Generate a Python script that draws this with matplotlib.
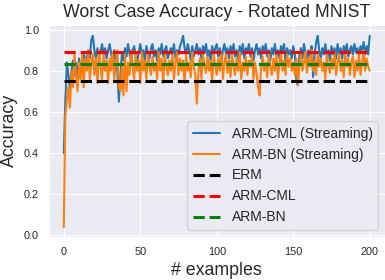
import matplotlib
matplotlib.use("Agg")
import matplotlib.pyplot as plt
import seaborn as sns
import numpy as np

# streaming accuracy, one value per example (0..200)
arm_cml_stream = [
    0.40, 0.66, 0.84, 0.78, 0.71, 0.80, 0.85, 0.78, 0.84, 0.76,
    0.86, 0.80, 0.85, 0.89, 0.82, 0.87, 0.90, 0.86, 0.95, 0.97,
    0.90, 0.86, 0.91, 0.87, 0.89, 0.93, 0.88, 0.91, 0.86, 0.90,
    0.93, 0.88, 0.85, 0.90, 0.83, 0.80, 0.65, 0.78, 0.88, 0.85,
    0.91, 0.87, 0.93, 0.88, 0.85, 0.90, 0.92, 0.87, 0.84, 0.89,
    0.93, 0.88, 0.90, 0.85, 0.92, 0.88, 0.86, 0.91, 0.93, 0.87,
    0.90, 0.85, 0.91, 0.88, 0.93, 0.87, 0.90, 0.92, 0.86, 0.89,
    0.91, 0.88, 0.93, 0.86, 0.90, 0.88, 0.92, 0.94, 0.97, 0.91,
    0.88, 0.93, 0.90, 0.85, 0.92, 0.87, 0.90, 0.93, 0.88, 0.91,
    0.86, 0.92, 0.89, 0.93, 0.87, 0.90, 0.85, 0.92, 0.88, 0.91,
    0.93, 0.87, 0.91, 0.84, 0.90, 0.93, 0.88, 0.91, 0.86, 0.92,
    0.89, 0.93, 0.87, 0.90, 0.85, 0.92, 0.88, 0.93, 0.86, 0.91,
    0.89, 0.93, 0.87, 0.91, 0.85, 0.90, 0.93, 0.88, 0.91, 0.86,
    0.92, 0.89, 0.93, 0.87, 0.90, 0.85, 0.91, 0.88, 0.93, 0.87,
    0.90, 0.86, 0.92, 0.89, 0.93, 0.84, 0.91, 0.88, 0.90, 0.86,
    0.92, 0.88, 0.76, 0.73, 0.87, 0.91, 0.86, 0.93, 0.89, 0.85,
    0.90, 0.87, 0.92, 0.77, 0.88, 0.94, 0.97, 0.90, 0.86, 0.91,
    0.88, 0.93, 0.87, 0.90, 0.85, 0.92, 0.88, 0.91, 0.86, 0.93,
    0.88, 0.91, 0.86, 0.92, 0.89, 0.93, 0.87, 0.90, 0.92, 0.88,
    0.93, 0.89, 0.91, 0.87, 0.92, 0.90, 0.94, 0.88, 0.92, 0.88,
    0.97,
]
arm_bn_stream = [
    0.04, 0.58, 0.66, 0.72, 0.62, 0.80, 0.72, 0.88, 0.78, 0.70,
    0.84, 0.76, 0.88, 0.72, 0.86, 0.80, 0.90, 0.76, 0.84, 0.88,
    0.78, 0.86, 0.74, 0.90, 0.82, 0.76, 0.88, 0.80, 0.85, 0.74,
    0.86, 0.80, 0.89, 0.76, 0.84, 0.90, 0.72, 0.70, 0.82, 0.68,
    0.88, 0.70, 0.84, 0.78, 0.90, 0.82, 0.76, 0.88, 0.80, 0.85,
    0.74, 0.89, 0.80, 0.85, 0.76, 0.88, 0.82, 0.78, 0.87, 0.80,
    0.84, 0.76, 0.89, 0.80, 0.86, 0.74, 0.88, 0.82, 0.78, 0.85,
    0.80, 0.88, 0.76, 0.84, 0.89, 0.78, 0.86, 0.80, 0.85, 0.74,
    0.88, 0.80, 0.84, 0.77, 0.89, 0.82, 0.78, 0.64, 0.80, 0.86,
    0.76, 0.88, 0.82, 0.79, 0.87, 0.80, 0.85, 0.75, 0.88, 0.82,
    0.78, 0.86, 0.80, 0.89, 0.76, 0.84, 0.88, 0.79, 0.85, 0.77,
    0.88, 0.82, 0.78, 0.86, 0.80, 0.89, 0.76, 0.84, 0.80, 0.87,
    0.78, 0.85, 0.82, 0.88, 0.76, 0.84, 0.79, 0.72, 0.68, 0.82,
    0.87, 0.80, 0.84, 0.77, 0.89, 0.82, 0.78, 0.86, 0.80, 0.88,
    0.76, 0.84, 0.89, 0.80, 0.85, 0.78, 0.88, 0.82, 0.86, 0.80,
    0.84, 0.78, 0.86, 0.73, 0.82, 0.88, 0.80, 0.84, 0.89, 0.79,
    0.86, 0.82, 0.90, 0.80, 0.85, 0.78, 0.88, 0.82, 0.86, 0.80,
    0.84, 0.76, 0.88, 0.82, 0.79, 0.86, 0.81, 0.89, 0.78, 0.84,
    0.88, 0.80, 0.85, 0.77, 0.88, 0.82, 0.86, 0.78, 0.84, 0.87,
    0.77, 0.85, 0.80, 0.88, 0.78, 0.84, 0.90, 0.80, 0.86, 0.82,
    0.80,
]
examples = np.arange(len(arm_cml_stream))

# baselines (constant)
erm_acc = 0.75
arm_cml_acc = 0.89
arm_bn_acc = 0.832

sns.set_style("darkgrid")
plt.rcParams["font.family"] = ["Liberation Sans", "DejaVu Sans"]

fig = plt.figure(figsize=(3.85, 2.8), dpi=100)
ax = fig.add_axes([0.126, 0.154, 0.874, 0.757])

ax.plot(examples, arm_cml_stream, color="tab:blue", lw=1.5, label="ARM-CML (Streaming)")
ax.plot(examples, arm_bn_stream, color="tab:orange", lw=1.5, label="ARM-BN (Streaming)")
ax.axhline(erm_acc, xmin=0.045, xmax=0.955, color="black", ls="--", lw=2.2, label="ERM")
ax.axhline(arm_cml_acc, xmin=0.045, xmax=0.955, color="red", ls="--", lw=2.2, label="ARM-CML")
ax.axhline(arm_bn_acc, xmin=0.045, xmax=0.955, color="green", ls="--", lw=2.2, label="ARM-BN")

ax.set_xlim(-10, 210)
ax.set_ylim(-0.007, 1.023)
ax.set_xticks([0, 50, 100, 150, 200])
ax.set_yticks([0.0, 0.2, 0.4, 0.6, 0.8, 1.0])
ax.tick_params(labelsize=7.8)

ax.set_title("Worst Case Accuracy - Rotated MNIST", fontsize=12.8)
ax.set_xlabel("# examples", fontsize=12.8)
ax.set_ylabel("Accuracy", fontsize=12.8)
ax.legend(loc="lower right", fontsize=10)

fig.savefig("out.png", dpi=100)
